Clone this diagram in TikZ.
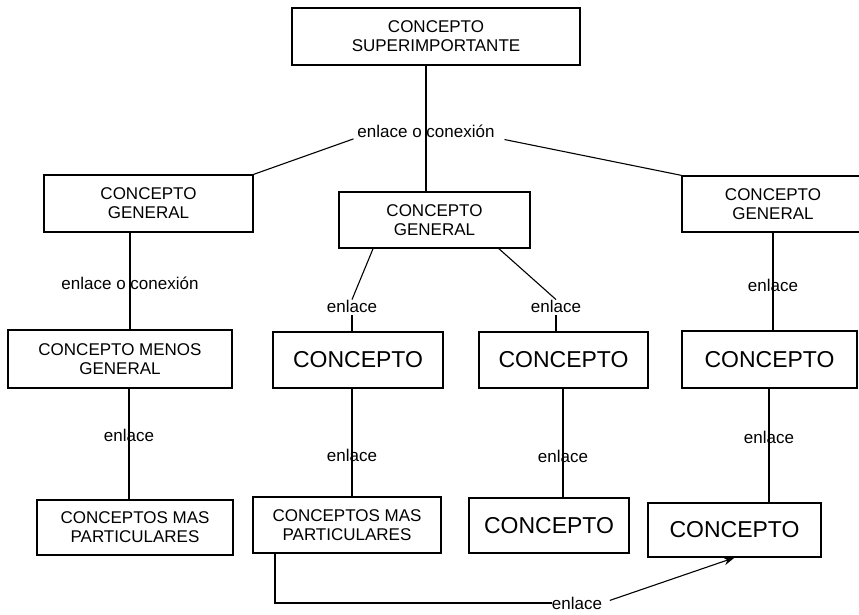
\documentclass[tikz,border=0pt]{standalone}
\usepackage{fontspec}
\setmainfont{Liberation Sans}
\usetikzlibrary{arrows.meta}

\begin{document}
\begin{tikzpicture}[x=1pt,y=-1pt,
  concept/.style={draw,line width=1.3pt,align=center,inner sep=0pt,font=\fontsize{17}{19}\selectfont},
  bigconcept/.style={concept,font=\fontsize{23}{26}\selectfont},
  link/.style={inner sep=0pt,font=\fontsize{17}{19}\selectfont},
  edge/.style={line width=1.1pt}]
\useasboundingbox (0,0) rectangle (859,614);
% boxes
\node[concept,minimum width=288pt,minimum height=57pt] (top) at (436,36.5) {CONCEPTO\\SUPERIMPORTANTE};
\node[concept,minimum width=209pt,minimum height=57pt] (genL) at (148.5,203.5) {CONCEPTO\\GENERAL};
\node[concept,minimum width=191pt,minimum height=56pt] (genM) at (434.5,220) {CONCEPTO\\GENERAL};
\node[concept,minimum width=182pt,minimum height=56pt] (genR) at (773,204) {CONCEPTO\\GENERAL};
\node[concept,minimum width=224pt,minimum height=58pt] (menos) at (120,359) {CONCEPTO MENOS\\GENERAL};
\node[bigconcept,minimum width=170pt,minimum height=56pt] (c1) at (358,360) {CONCEPTO};
\node[bigconcept,minimum width=169pt,minimum height=56pt] (c2) at (563.5,360) {CONCEPTO};
\node[bigconcept,minimum width=175pt,minimum height=57pt] (c3) at (769.5,359.5) {CONCEPTO};
\node[concept,minimum width=196pt,minimum height=55pt] (part1) at (135,527.5) {CONCEPTOS MAS\\PARTICULARES};
\node[concept,minimum width=188pt,minimum height=56pt] (part2) at (347,525) {CONCEPTOS MAS\\PARTICULARES};
\node[bigconcept,minimum width=160pt,minimum height=55pt] (c4) at (549,525.5) {CONCEPTO};
\node[bigconcept,minimum width=173pt,minimum height=54pt] (c5) at (734.5,530) {CONCEPTO};
% link labels
\node[link] (lab0) at (426,131) {enlace o conexión};
\node[link] (lab1) at (130,283) {enlace o conexión};
\node[link] (lab2) at (352,306) {enlace};
\node[link] (lab3) at (556,306) {enlace};
\node[link] (lab4) at (773,285) {enlace};
\node[link] (lab5) at (129,435) {enlace};
\node[link] (lab6) at (352,455) {enlace};
\node[link] (lab7) at (563,456) {enlace};
\node[link] (lab8) at (769,437) {enlace};
\node[link] (lab9) at (577,603) {enlace};
\coordinate (bend) at (275,0);
% connectors
\draw[edge] (top.south -| lab0) -- (genM.north -| lab0);
\draw[edge,shorten <=4pt] (lab0.south west) -- (genL.north east);
\draw[edge,shorten <=10pt] (lab0.south east) -- (genR.north west);
\draw[edge] (genL.south -| lab1) -- (menos.north -| lab1);
\draw[edge] (genM.205) -- (lab2.north);
\draw[edge] (genM.336) -- (lab3.north);
\draw[edge,shorten <=3pt] (lab2.south) -- (c1.north -| lab2.south);
\draw[edge,shorten <=3pt] (lab3.south) -- (c2.north -| lab3.south);
\draw[edge] (genR.south -| lab4) -- (c3.north -| lab4);
\draw[edge] (menos.south -| lab5) -- (part1.north -| lab5);
\draw[edge] (c1.south -| lab6) -- (part2.north -| lab6);
\draw[edge] (c2.south -| lab7) -- (c4.north -| lab7);
\draw[edge] (c3.south -| lab8) -- (c5.north -| lab8);
\draw[edge] (part2.south -| bend) |- (lab9.west);
\draw[edge,shorten <=8pt,-{Stealth[length=11pt,width=8pt]}] (lab9.east) -- (c5.south);
\end{tikzpicture}
\end{document}
